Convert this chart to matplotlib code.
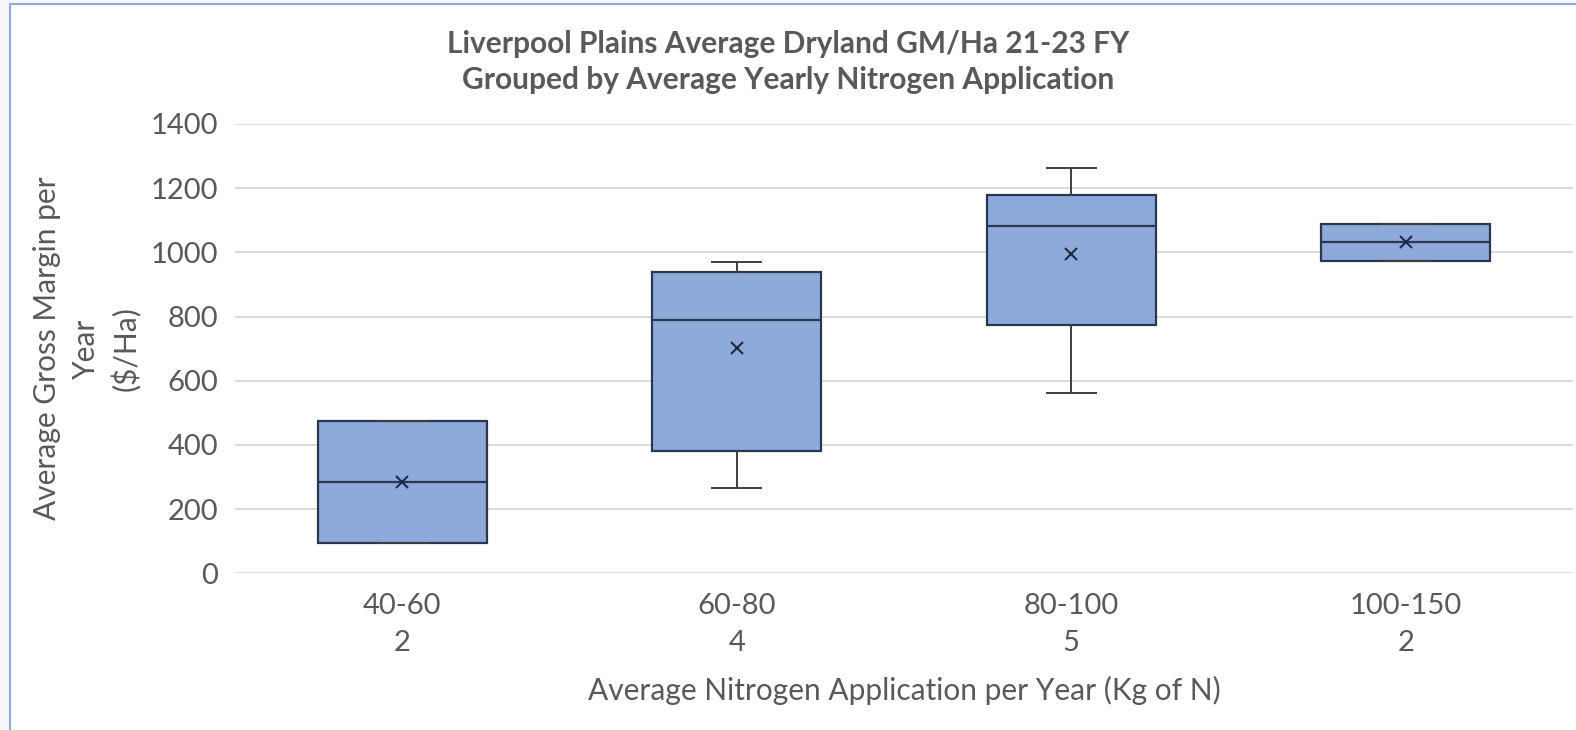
import matplotlib
matplotlib.use("Agg")
import matplotlib.pyplot as plt
from matplotlib.patches import Rectangle

# ---- data ----
categories = ["40-60", "60-80", "80-100", "100-150"]
counts = [2, 4, 5, 2]
whisker_low = [94, 265, 561, 974]
q1 = [94, 382, 774, 974]
median = [286, 790, 1082, 1031]
q3 = [476, 938, 1179, 1089]
whisker_high = [476, 971, 1262, 1089]
means = [285, 701, 994, 1033]
y_ticks = [0, 200, 400, 600, 800, 1000, 1200, 1400]

title = "Liverpool Plains Average Dryland GM/Ha 21-23 FY\nGrouped by Average Yearly Nitrogen Application"
x_label = "Average Nitrogen Application per Year (Kg of N)"
y_label = "Average Gross Margin per\nYear\n($/Ha)"

plt.rcParams['font.family'] = ['Lato', 'DejaVu Sans']

W, H = 1576, 730
fig = plt.figure(figsize=(W / 100, H / 100), dpi=100)
fig.patch.set_facecolor('#f7f7f7')
# chart area with light-blue border
border = Rectangle((10 / W, -0.01), 1.02, 1 - 4 / H + 0.01, transform=fig.transFigure,
                   facecolor='white', edgecolor='#8eaadb', linewidth=1.5, zorder=-10)
fig.patches.append(border)

ax = fig.add_axes([235 / W, (H - 573.3) / H, 1338 / W, 449.3 / H])
ax.set_facecolor('none')
ax.set_zorder(1)

stats = []
for i, c in enumerate(categories):
    stats.append(dict(label=f"{c}\n{counts[i]}", whislo=whisker_low[i], q1=q1[i], med=median[i],
                      q3=q3[i], whishi=whisker_high[i], mean=means[i], fliers=[]))

edge = '#2b3750'
ax.bxp(stats, positions=range(len(categories)), widths=0.505, capwidths=0.147,
       showmeans=True, showfliers=False, patch_artist=True,
       boxprops=dict(facecolor='#8eaadb', edgecolor=edge, linewidth=1.6),
       medianprops=dict(color=edge, linewidth=1.6),
       whiskerprops=dict(color='#3f3f3f', linewidth=1.4),
       capprops=dict(color='#3f3f3f', linewidth=1.4),
       meanprops=dict(marker='x', markeredgecolor='#1f2a44', markersize=9, markeredgewidth=1.5))

ax.set_xlim(-0.5, len(categories) - 0.5)
ax.set_ylim(0, 1400)
ax.set_yticks(y_ticks)
ax.yaxis.grid(True, color='#d9d9d9', linewidth=1.3)
ax.set_axisbelow(True)
for s in ax.spines.values():
    s.set_visible(False)
ax.tick_params(axis='both', length=0, labelsize=21, labelcolor='#595959')
ax.tick_params(axis='y', pad=12)
ax.tick_params(axis='x', pad=14)
for lbl in ax.get_xticklabels():
    lbl.set_linespacing(1.55)

ax.set_xlabel(x_label, fontsize=21.5, color='#595959', labelpad=14)
ax.set_ylabel(y_label, fontsize=21.5, color='#595959', labelpad=7, linespacing=1.45)
fig.text(0.5, 1 - 62 / H, title, ha='center', va='center', fontsize=21.5, fontweight='bold',
         color='#595959', linespacing=1.35)

fig.savefig("out.png", dpi=100, facecolor=fig.get_facecolor())
